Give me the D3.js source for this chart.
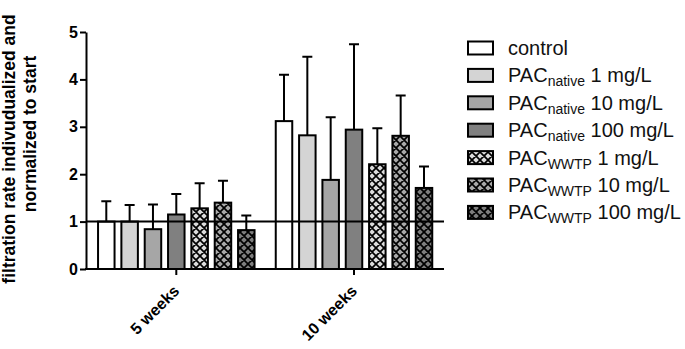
<!DOCTYPE html>
<html><head><meta charset="utf-8">
<script src="https://cdn.jsdelivr.net/npm/d3@7"></script>
<style>body{margin:0;background:#fff}svg{display:block}text{font-family:"Liberation Sans",Arial,sans-serif}</style>
</head><body>
<svg id="c" width="685" height="349"></svg>
<script>
const groups = ["5 weeks", "10 weeks"];
const seriesNames = ["control", "native 1", "native 10", "native 100", "WWTP 1", "WWTP 10", "WWTP 100"];
const legendMain = ["control", "PAC", "PAC", "PAC", "PAC", "PAC", "PAC"];
const legendSub = ["", "native", "native", "native", "WWTP", "WWTP", "WWTP"];
const legendTail = ["", " 1 mg/L", " 10 mg/L", " 100 mg/L", " 1 mg/L", " 10 mg/L", " 100 mg/L"];
const means5 = [1.0, 1.0, 0.84, 1.15, 1.28, 1.40, 0.82];
const errTop5 = [1.43, 1.35, 1.36, 1.58, 1.81, 1.86, 1.13];
const means10 = [3.12, 2.82, 1.88, 2.94, 2.21, 2.81, 1.71];
const errTop10 = [4.10, 4.48, 3.20, 4.74, 2.97, 3.66, 2.16];
const yTicks = [0, 1, 2, 3, 4, 5];
const fills = ["#ffffff", "#d4d4d4", "#a6a6a6", "#808080", "#dcdcdc", "#a9a9a9", "#7e7e7e"];
const hatched = [false, false, false, false, true, true, true];

const svg = d3.select("#c");
const defs = svg.append("defs");
fills.forEach((f, i) => {
  if (!hatched[i]) return;
  const p = defs.append("pattern").attr("id", "h" + i).attr("patternUnits", "userSpaceOnUse")
    .attr("width", 8).attr("height", 8).attr("x", 0).attr("y", 0);
  p.append("rect").attr("width", 8).attr("height", 8).attr("fill", f);
  p.append("path").attr("d", "M-2,2 L2,-2 M0,8 L8,0 M6,10 L10,6 M-2,6 L2,10 M0,0 L8,8 M6,-2 L10,2")
    .attr("stroke", "#000").attr("stroke-width", 1.7);
});
const fillOf = i => hatched[i] ? `url(#h${i})` : fills[i];

const x0 = 86, x1 = 444, yTop = 32, yBot = 269;
const y = d3.scaleLinear().domain([0, 5]).range([yBot, yTop]);
const centers = { "5 weeks": 176.3, "10 weeks": 354 };
const xs = d3.scaleLinear().domain([0, 6]).range([-70, 70]);
const barW = 16.5;

const data = [];
groups.forEach((g, gi) => {
  const m = gi === 0 ? means5 : means10, e = gi === 0 ? errTop5 : errTop10;
  m.forEach((v, i) => data.push({ g, i, v, e: e[i] }));
});

const g = svg.append("g");
g.selectAll(".err").data(data).join("path")
  .attr("d", d => { const cx = centers[d.g] + xs(d.i); return `M${cx},${y(d.v)}V${y(d.e)}M${cx - 5},${y(d.e)}H${cx + 5}`; })
  .attr("stroke", "#000").attr("stroke-width", 2).attr("fill", "none");
g.selectAll(".bar").data(data).join("rect")
  .attr("x", d => centers[d.g] + xs(d.i) - barW / 2)
  .attr("width", barW)
  .attr("y", d => y(d.v))
  .attr("height", d => y(0) - y(d.v))
  .attr("fill", d => fillOf(d.i)).attr("stroke", "#000").attr("stroke-width", 2);

g.append("line").attr("x1", x0).attr("x2", x1).attr("y1", y(1)).attr("y2", y(1))
  .attr("stroke", "#000").attr("stroke-width", 2);

const ya = svg.append("g").attr("transform", `translate(${x0},0)`)
  .call(d3.axisLeft(y).tickValues(yTicks).tickSize(6).tickSizeOuter(0).tickPadding(2).tickFormat(d3.format("d")));
ya.select(".domain").attr("stroke-width", 2);
ya.selectAll(".tick line").attr("stroke-width", 2);
ya.selectAll(".tick text").attr("font-size", 16).attr("font-weight", "bold").attr("fill", "#000");

const xa = svg.append("g").attr("transform", `translate(0,${yBot})`);
xa.append("line").attr("x1", x0 - 1).attr("x2", x1).attr("stroke", "#000").attr("stroke-width", 2);
groups.forEach(gn => {
  const cx = centers[gn];
  xa.append("line").attr("x1", cx).attr("x2", cx).attr("y1", 0).attr("y2", 6).attr("stroke", "#000").attr("stroke-width", 2);
  xa.append("text").attr("transform", `translate(${cx + 4},${23}) rotate(-45)`)
    .attr("text-anchor", "end").attr("font-size", 16).attr("font-weight", "bold").text(gn);
});

svg.append("text").attr("transform", `translate(15,149) rotate(-90)`)
  .attr("text-anchor", "middle").attr("font-size", 17.5).attr("font-weight", "bold")
  .text("filtration rate indivudualized and");
svg.append("text").attr("transform", `translate(36,134) rotate(-90)`)
  .attr("text-anchor", "middle").attr("font-size", 17.5).attr("font-weight", "bold")
  .text("normalized to start");

const lg = svg.append("g");
seriesNames.forEach((s, i) => {
  const ly = 48 + i * 27.4;
  lg.append("rect").attr("x", 468).attr("y", ly - 6.5).attr("width", 25).attr("height", 13)
    .attr("fill", fillOf(i)).attr("stroke", "#000").attr("stroke-width", 2);
  const t = lg.append("text").attr("x", 508).attr("y", ly + 7).attr("font-size", 20).attr("fill", "#111");
  t.append("tspan").text(legendMain[i]);
  if (legendSub[i]) {
    t.append("tspan").attr("font-size", 14).attr("dy", 4).text(legendSub[i]);
    t.append("tspan").attr("dy", -4).text(legendTail[i]);
  }
});
</script>
</body></html>
